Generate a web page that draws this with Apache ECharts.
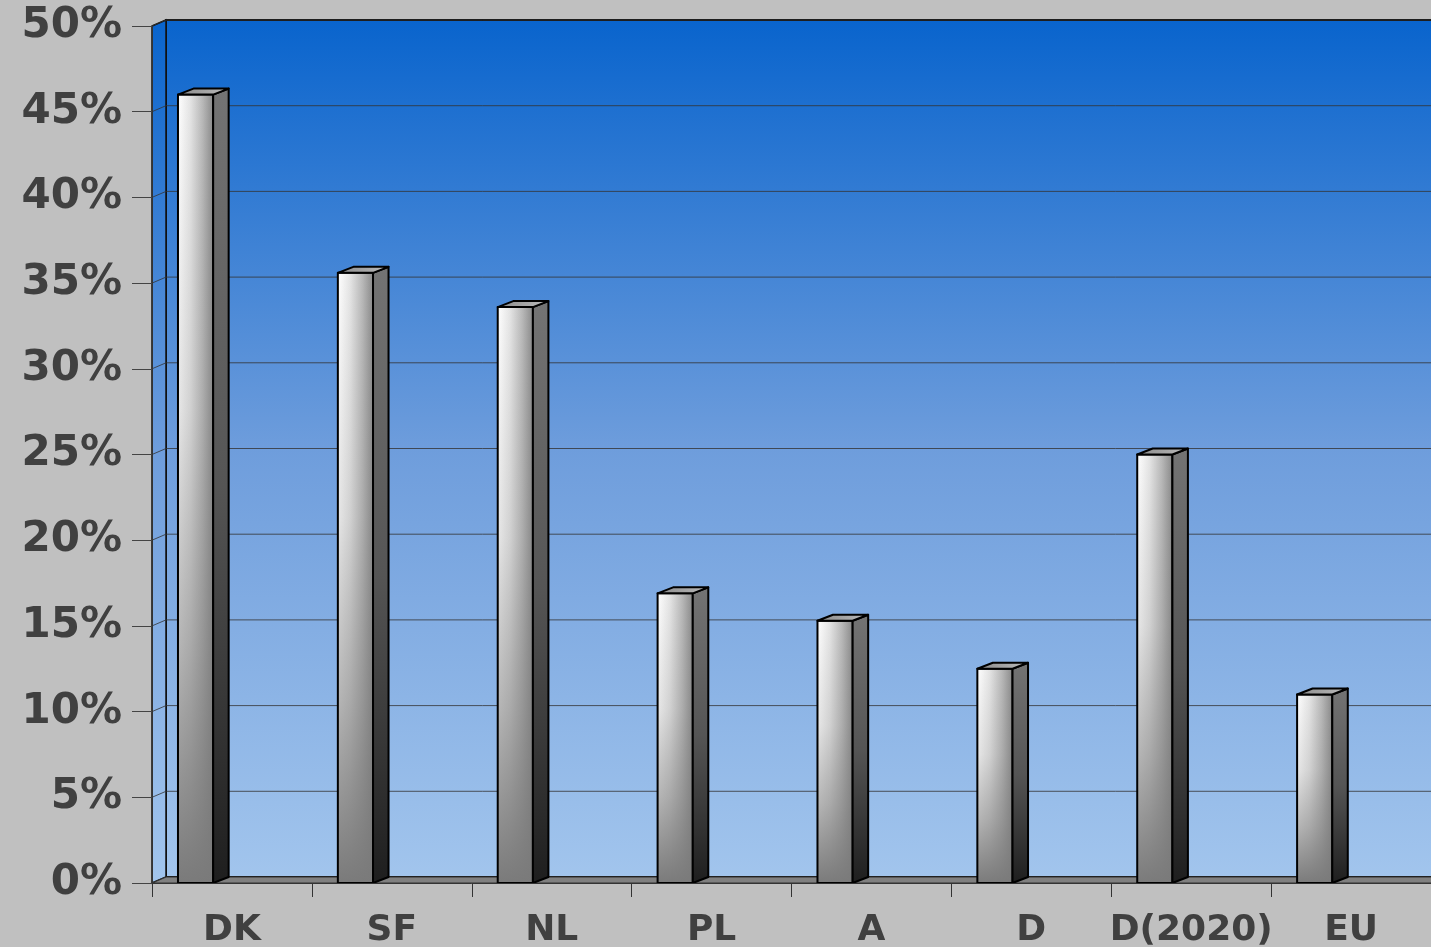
<!DOCTYPE html>
<html>
<head>
<meta charset="utf-8">
<title>Share chart</title>
<script src="https://cdn.jsdelivr.net/npm/echarts@6/dist/echarts.min.js"></script>
<style>
  html, body { margin: 0; padding: 0; background: #c0c0c0; }
  #chart { width: 1431px; height: 947px; }
</style>
</head>
<body>
<div id="chart"></div>
<script>
// data
const categories = ['DK', 'SF', 'NL', 'PL', 'A', 'D', 'D(2020)', 'EU']
const shares = [46, 35.6, 33.6, 16.9, 15.3, 12.5, 25, 11]
const yTicks = [0, 5, 10, 15, 20, 25, 30, 35, 40, 45, 50]

// depth of the 3d frame (px)
const WALL_DX = 14
const WALL_DY = -6

const wallGrad = {
  type: 'linear', x: 0, y: 0, x2: 0, y2: 1,
  colorStops: [
    { offset: 0, color: '#0964cd' },
    { offset: 0.5, color: '#6e9ddc' },
    { offset: 1, color: '#a2c5ed' }
  ]
}

// back wall, left wall, floor and grid lines
function renderFrame(params, api) {
  const cs = params.coordSys
  const v = api.value(0)
  const y = api.coord([0, v])[1]
  const left = cs.x
  const bottom = cs.y + cs.height
  const children = []
  if (params.dataIndex === 0) {
    children.push({
      type: 'rect',
      shape: { x: left + WALL_DX, y: cs.y + WALL_DY, width: cs.width + 20, height: cs.height },
      style: { fill: wallGrad, stroke: '#111', lineWidth: 2 }
    })
    children.push({
      type: 'polygon',
      shape: { points: [[left, cs.y], [left + WALL_DX, cs.y + WALL_DY], [left + WALL_DX, bottom + WALL_DY], [left, bottom]] },
      style: { fill: wallGrad, stroke: '#111', lineWidth: 1.5 }
    })
    children.push({
      type: 'polygon',
      shape: { points: [[left, bottom], [left + WALL_DX, bottom + WALL_DY], [left + cs.width + 40, bottom + WALL_DY], [left + cs.width + 40, bottom]] },
      style: { fill: '#808080', stroke: '#333', lineWidth: 1.2 }
    })
  }
  if (v > 0) {
    children.push({
      type: 'line',
      shape: { x1: left + WALL_DX, y1: y + WALL_DY, x2: left + cs.width + 20, y2: y + WALL_DY },
      style: { stroke: '#333', lineWidth: 1, opacity: 0.8 }
    })
    children.push({
      type: 'line',
      shape: { x1: left, y1: y, x2: left + WALL_DX, y2: y + WALL_DY },
      style: { stroke: '#333', lineWidth: 1, opacity: 0.8 }
    })
  }
  return { type: 'group', children: children }
}

const frontGrad = {
  type: 'linear', x: 0, y: 0, x2: 1, y2: 0,
  colorStops: [
    { offset: 0, color: '#ffffff' },
    { offset: 0.35, color: '#e4e4e4' },
    { offset: 0.7, color: '#b8b8b8' },
    { offset: 1, color: '#8a8a8a' }
  ]
}
const shadeGrad = {
  type: 'linear', x: 0, y: 0, x2: 0, y2: 1,
  colorStops: [
    { offset: 0, color: 'rgba(122,122,122,0)' },
    { offset: 0.4, color: 'rgba(122,122,122,0.18)' },
    { offset: 0.7, color: 'rgba(122,122,122,0.55)' },
    { offset: 1, color: 'rgba(122,122,122,1)' }
  ]
}
const sideGrad = {
  type: 'linear', x: 0, y: 0, x2: 0, y2: 1,
  colorStops: [
    { offset: 0, color: '#747474' },
    { offset: 0.5, color: '#555555' },
    { offset: 1, color: '#1e1e1e' }
  ]
}
const topGrad = {
  type: 'linear', x: 0, y: 0, x2: 1, y2: 0,
  colorStops: [
    { offset: 0, color: '#8a8a8a' },
    { offset: 1, color: '#bdbdbd' }
  ]
}

function renderBar(params, api) {
  const i = api.value(0)
  const base = api.coord([i, 0])
  const top = api.coord([i, api.value(1)])
  const band = api.size([1, 0])[0]
  const w = band * 0.22
  const x0 = base[0] - band * 0.3375
  const x1 = x0 + w
  const dx = band * 0.097
  const dy = -6
  const y0 = top[1]
  const y1 = base[1]
  const edge = { stroke: '#000', lineWidth: 2, lineJoin: 'round' }
  return {
    type: 'group',
    children: [
      { type: 'rect', shape: { x: x0, y: y0, width: w, height: y1 - y0 }, style: { fill: frontGrad } },
      { type: 'rect', shape: { x: x0, y: y0, width: w, height: y1 - y0 }, style: Object.assign({ fill: shadeGrad }, edge) },
      { type: 'polygon', shape: { points: [[x1, y0], [x1 + dx, y0 + dy], [x1 + dx, y1 + dy], [x1, y1]] }, style: Object.assign({ fill: sideGrad }, edge) },
      { type: 'polygon', shape: { points: [[x0, y0], [x0 + dx, y0 + dy], [x1 + dx, y0 + dy], [x1, y0]] }, style: Object.assign({ fill: topGrad }, edge) }
    ]
  }
}

const myChart = echarts.init(document.getElementById('chart'))

const option = {
  backgroundColor: '#c0c0c0',
  animation: false,
  grid: { left: 152, right: 0, top: 26, bottom: 64, outerBoundsMode: 'none' },
  xAxis: {
    type: 'category',
    data: categories,
    z: 5,
    axisLine: { lineStyle: { color: '#333', width: 1 } },
    axisTick: { show: true, length: 14, lineStyle: { color: '#333' } },
    axisLabel: {
      margin: 30,
      color: '#404040',
      fontFamily: 'DejaVu Sans',
      fontWeight: 'bold',
      fontSize: 36,
      interval: 0
    },
    splitLine: { show: false }
  },
  yAxis: {
    type: 'value',
    min: 0,
    max: 50,
    interval: 5,
    z: 5,
    axisLine: { show: true, lineStyle: { color: '#333', width: 1 } },
    axisTick: { show: true, length: 20, lineStyle: { color: '#444' } },
    axisLabel: {
      formatter: '{value}%',
      margin: 30,
      color: '#404040',
      fontFamily: 'DejaVu Sans',
      fontWeight: 'bold',
      fontSize: 42
    },
    splitLine: { show: false }
  },
  series: [
    {
      type: 'custom',
      name: 'frame',
      z: 1,
      silent: true,
      renderItem: renderFrame,
      data: yTicks.map(v => [v]),
      encode: { y: 0 }
    },
    {
      type: 'custom',
      name: 'share',
      z: 3,
      renderItem: renderBar,
      data: shares.map((v, i) => [i, v]),
      encode: { x: 0, y: 1 }
    }
  ]
}

myChart.setOption(option)
window.addEventListener('resize', () => myChart.resize())
</script>
</body>
</html>
